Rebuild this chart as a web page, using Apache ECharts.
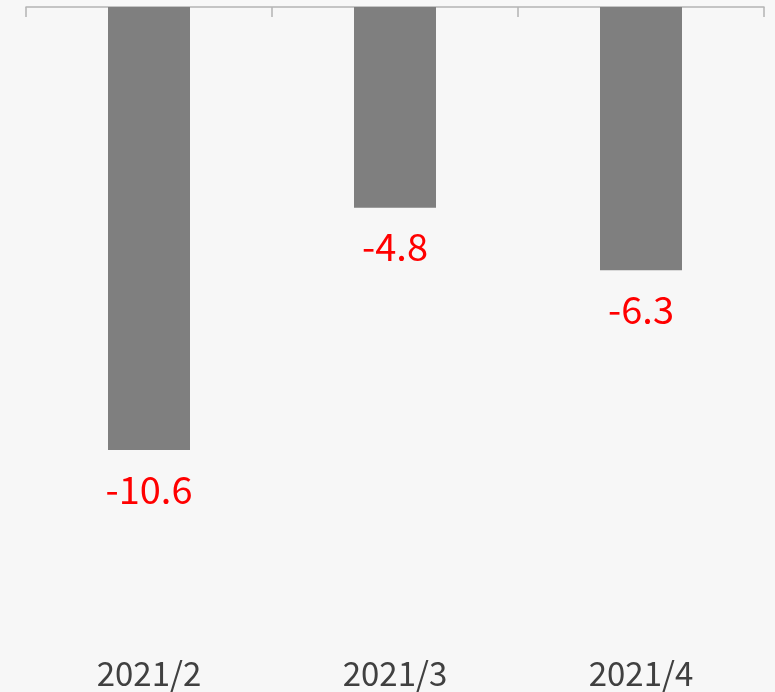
<!DOCTYPE html>
<html>
<head>
<meta charset="utf-8">
<script src="https://cdn.jsdelivr.net/npm/echarts@6/dist/echarts.min.js"></script>
<style>
  html, body { margin: 0; padding: 0; background: #f7f7f7; }
  #chart { width: 775px; height: 692px; }
</style>
</head>
<body>
<div id="chart"></div>
<script>
var categories = ['2021/2', '2021/3', '2021/4'];
var values = [-10.6, -4.8, -6.3];

var myChart = echarts.init(document.getElementById('chart'));
var font = '"Noto Sans CJK JP", "Noto Sans", sans-serif';
var option = {
    backgroundColor: '#f7f7f7',
    animation: false,
    grid: {
        top: 7,
        left: 26,
        right: 11,
        height: 627
    },
    xAxis: [
        {
            type: 'category',
            position: 'top',
            data: categories,
            axisLine: { show: true, lineStyle: { color: '#b4b4b4', width: 1.5 } },
            axisTick: {
                show: true,
                inside: true,
                interval: 0,
                length: 10,
                lineStyle: { color: '#b4b4b4', width: 1.5 }
            },
            axisLabel: { show: false }
        },
        {
            type: 'category',
            position: 'bottom',
            data: categories,
            axisLine: { show: false },
            axisTick: { show: false },
            axisLabel: {
                color: '#404040',
                fontSize: 33,
                fontFamily: font,
                margin: 23
            }
        }
    ],
    yAxis: {
        type: 'value',
        min: -15,
        max: 0,
        show: false,
        splitLine: { show: false }
    },
    series: [
        {
            type: 'bar',
            xAxisIndex: 0,
            data: values,
            barWidth: 82,
            itemStyle: { color: '#7f7f7f' },
            label: {
                show: true,
                position: 'bottom',
                distance: 20,
                color: '#ff0000',
                fontSize: 38,
                fontFamily: font
            }
        }
    ]
};
myChart.setOption(option);
</script>
</body>
</html>
